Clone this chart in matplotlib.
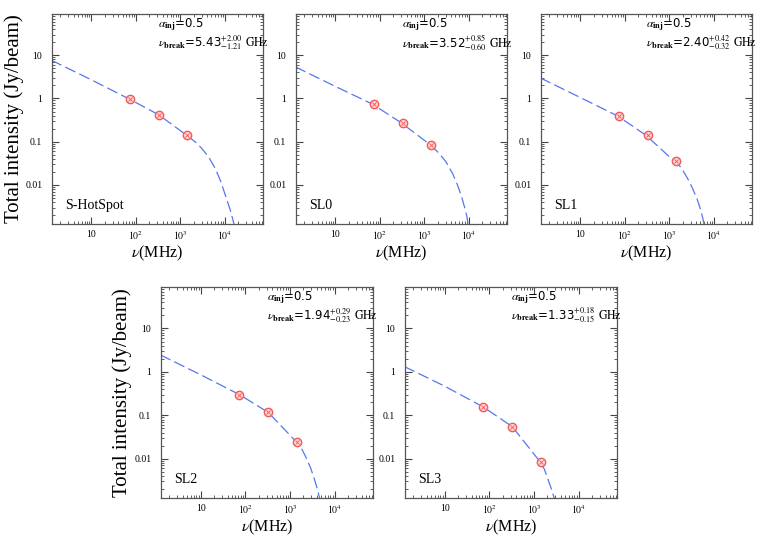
import numpy as np
import matplotlib
matplotlib.use('Agg')
import matplotlib.pyplot as plt
from matplotlib.ticker import LogLocator, NullFormatter

plt.rcParams['mathtext.fontset'] = 'stix'
plt.rcParams['font.family'] = 'Liberation Serif'

# observed frequencies (MHz) and flux densities (Jy/beam)
obs_freq = [74, 325, 1400]
names = ['S-HotSpot', 'SL0', 'SL1', 'SL2', 'SL3']
obs_flux = [
    [0.95, 0.42, 0.14],
    [0.74, 0.275, 0.085],
    [0.39, 0.14, 0.035],
    [0.30, 0.117, 0.0243],
    [0.155, 0.055, 0.0083],
]
nu_break = ['5.43', '3.52', '2.40', '1.94', '1.33']
err_up = ['2.00', '0.85', '0.42', '0.29', '0.18']
err_lo = ['1.21', '0.60', '0.32', '0.23', '0.15']

# model curves
model_freq = [
    [1.25, 10, 74, 325, 1400, 2140, 3030, 4280, 6050, 7850, 10200, 13200,
     16200, 18000],
    [1.25, 10, 68, 300, 1350, 2140, 3030, 4280, 5550, 6830, 8130, 9020,
     9660, 10200],
    [1.25, 10, 70, 300, 1300, 1800, 2550, 3300, 4140, 4920, 5650, 6050,
     6400],
    [1.25, 10, 74, 325, 1400, 1800, 2340, 2920, 3480, 3990, 4590, 5000],
    [1.25, 10, 74, 325, 1400, 1700, 2050, 2420, 2820, 3100],
]
model_flux = [
    [7.7, 2.7, 0.95, 0.42, 0.14, 0.10, 0.070, 0.045, 0.0243, 0.013, 0.0059,
     0.00265, 0.0012, 0.0008],
    [5.4, 1.9, 0.74, 0.275, 0.085, 0.054, 0.0347, 0.0186, 0.010, 0.0054,
     0.0029, 0.00186, 0.0012, 0.0008],
    [3.0, 1.05, 0.39, 0.14, 0.035, 0.026, 0.0143, 0.0084, 0.0049, 0.0029,
     0.0017, 0.0012, 0.0009],
    [2.47, 0.86, 0.30, 0.117, 0.0243, 0.0175, 0.0102, 0.006, 0.0035, 0.0022,
     0.00126, 0.0009],
    [1.33, 0.47, 0.155, 0.055, 0.0083, 0.0058, 0.0034, 0.0021, 0.00126,
     0.0008],
]

positions = [
    [52, 14, 263, 224], [296, 14, 507, 224], [541, 14, 752, 224],
    [161, 287, 373, 498], [405, 287, 617, 498],
]
W, H = 763, 536

fig = plt.figure(figsize=(7.63, 5.36), dpi=100)

for i in range(5):
    l, t, r, b = positions[i]
    ax = fig.add_axes([l / W, 1 - b / H, (r - l) / W, (b - t) / H])
    ax.set_xscale('log')
    ax.set_yscale('log')
    ax.set_xlim(1.3, 7.2e4)
    ax.set_ylim(1.25e-3, 90)

    ax.plot(model_freq[i], model_flux[i], color='#5577ee', lw=0.9,
            dashes=(9, 3.5))
    ax.plot(obs_freq, obs_flux[i], 'o', ms=6, mfc='#ffd6d6', mec='#f05a5a',
            mew=1.0)
    ax.plot(obs_freq, obs_flux[i], 'x', ms=3, color='#f05a5a', mew=0.6)

    ax.set_xticks([10, 100, 1000, 10000])
    ax.set_xticklabels(['10', '$10^2$', '$10^3$', '$10^4$'])
    ax.set_yticks([0.01, 0.1, 1, 10])
    ax.set_yticklabels(['0.01', '0.1', '1', '10'])
    ax.xaxis.set_minor_locator(LogLocator(subs=np.arange(2, 10), numticks=20))
    ax.yaxis.set_minor_locator(LogLocator(subs=np.arange(2, 10), numticks=20))
    ax.xaxis.set_minor_formatter(NullFormatter())
    ax.yaxis.set_minor_formatter(NullFormatter())
    ax.tick_params(which='both', direction='in', top=True, right=True,
                   labelsize=7, color='#444444')
    ax.tick_params(axis='x', pad=4)
    ax.tick_params(axis='y', pad=7)
    ax.tick_params(which='major', length=5, width=0.8)
    ax.tick_params(which='minor', length=2.5, width=0.6)
    for s in ax.spines.values():
        s.set_color('#555555')
        s.set_linewidth(0.9)

    ax.text(0.50, 0.948, r'$\alpha_{\mathbf{inj}}$=0.5', transform=ax.transAxes,
            fontsize=8.5, family='DejaVu Sans', va='center')
    ax.text(0.50, 0.864,
            r'$\nu_{\mathbf{break}}$=' + nu_break[i] + r'$^{+' + err_up[i] +
            r'}_{-' + err_lo[i] + r'}$ $\mathrm{GHz}$',
            transform=ax.transAxes, fontsize=8.5, family='DejaVu Sans',
            va='center')
    ax.text(0.06, 0.07, names[i], transform=ax.transAxes, fontsize=10)

    ax.set_xlabel(r'$\nu$(MHz)', fontsize=11.5, labelpad=1)
    if i in (0, 3):
        ax.set_ylabel('Total intensity (Jy/beam)', fontsize=15)
        ax.yaxis.set_label_coords(-0.135, 0.5)

fig.savefig('out.png', dpi=100)
